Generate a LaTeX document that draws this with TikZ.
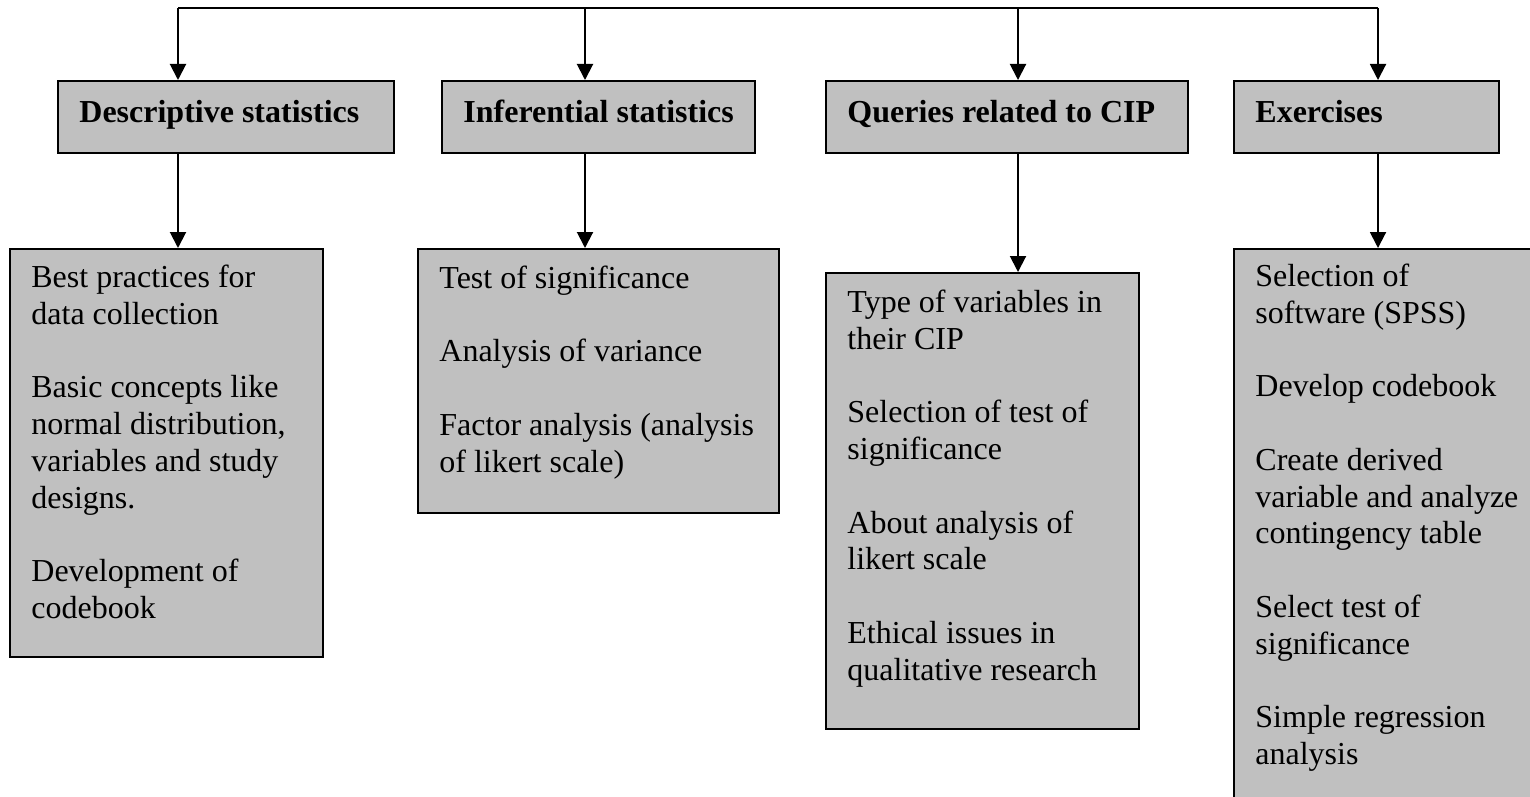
\documentclass[tikz,border=0pt]{standalone}
\usepackage{fontspec}
\setmainfont{Liberation Serif}
\usetikzlibrary{arrows.meta,calc}
\definecolor{boxgray}{HTML}{C0C0C0}
\begin{document}
\begin{tikzpicture}[x=0.5pt,y=-0.5pt,
  box/.style={draw=black, line width=1pt, fill=boxgray, rectangle, inner sep=0pt, anchor=north west},
  head/.style={font=\fontsize{16}{18.4}\selectfont\bfseries, anchor=base west, inner sep=0pt},
  body/.style={font=\fontsize{16}{18.4}\selectfont, anchor=north west, inner sep=0pt, align=left},
  conn/.style={line width=1pt},
  arr/.style={line width=1pt, -{Triangle[width=8pt,length=8pt]}}
]
\useasboundingbox (0,0) rectangle (1530,797);
\clip (0,0) rectangle (1530,797);

% header boxes
\node[box, minimum width=168pt, minimum height=36pt] (h1) at (57,80) {};
\node[box, minimum width=156.5pt, minimum height=36pt] (h2) at (441,80) {};
\node[box, minimum width=181pt, minimum height=36pt] (h3) at (825,80) {};
\node[box, minimum width=132.5pt, minimum height=36pt] (h4) at (1233,80) {};

\node[head] (t1) at ($(h1.north west)+(22,42)$) {Descriptive statistics};
\node[head] (t2) at ($(h2.north west)+(22,42)$) {Inferential statistics};
\node[head] (t3) at ($(h3.north west)+(22,42)$) {Queries related to CIP};
\node[head] (t4) at ($(h4.north west)+(22,42)$) {Exercises};

% content boxes
\node[box, minimum width=156.5pt, minimum height=204pt] (b1) at (9,248) {};
\node[box, minimum width=180.5pt, minimum height=132pt] (b2) at (417,248) {};
\node[box, minimum width=156.5pt, minimum height=228pt] (b3) at (825,272) {};
\node[box, minimum width=156.5pt, minimum height=284pt] (b4) at (1233,248) {};

\node[body] (c1) at ($(b1.north west)+(22,13.2)$) {\strut Best practices for\\data collection\\[18.4pt]Basic concepts like\\normal distribution,\\variables and study\\designs.\\[18.4pt]Development of\\codebook};
\node[body] (c2) at ($(b2.north west)+(22,14.2)$) {\strut Test of significance\\[18.4pt]Analysis of variance\\[18.4pt]Factor analysis (analysis\\of likert scale)};
\node[body] (c3) at ($(b3.north west)+(22,14.2)$) {\strut Type of variables in\\their CIP\\[18.4pt]Selection of test of\\significance\\[18.4pt]About analysis of\\likert scale\\[18.4pt]Ethical issues in\\qualitative research};
\node[body] (c4) at ($(b4.north west)+(22,12.2)$) {\strut Selection of\\software (SPSS)\\[18.4pt]Develop codebook\\[18.4pt]Create derived\\variable and analyze\\contingency table\\[18.4pt]Select test of\\significance\\[18.4pt]Simple regression\\analysis};

% connectors
\coordinate (j1) at (178,8);
\coordinate (j2) at (585,8);
\coordinate (j3) at (1018,8);
\coordinate (j4) at (1378,8);
\draw[conn] (j1) -- (j4);
\draw[arr] (j1) -- (j1 |- h1.north);
\draw[arr] (j2) -- (j2 |- h2.north);
\draw[arr] (j3) -- (j3 |- h3.north);
\draw[arr] (j4) -- (j4 |- h4.north);
\draw[arr] (h1.south -| j1) -- (j1 |- b1.north);
\draw[arr] (h2.south -| j2) -- (j2 |- b2.north);
\draw[arr] (h3.south -| j3) -- (j3 |- b3.north);
\draw[arr] (h4.south -| j4) -- (j4 |- b4.north);
\end{tikzpicture}
\end{document}
